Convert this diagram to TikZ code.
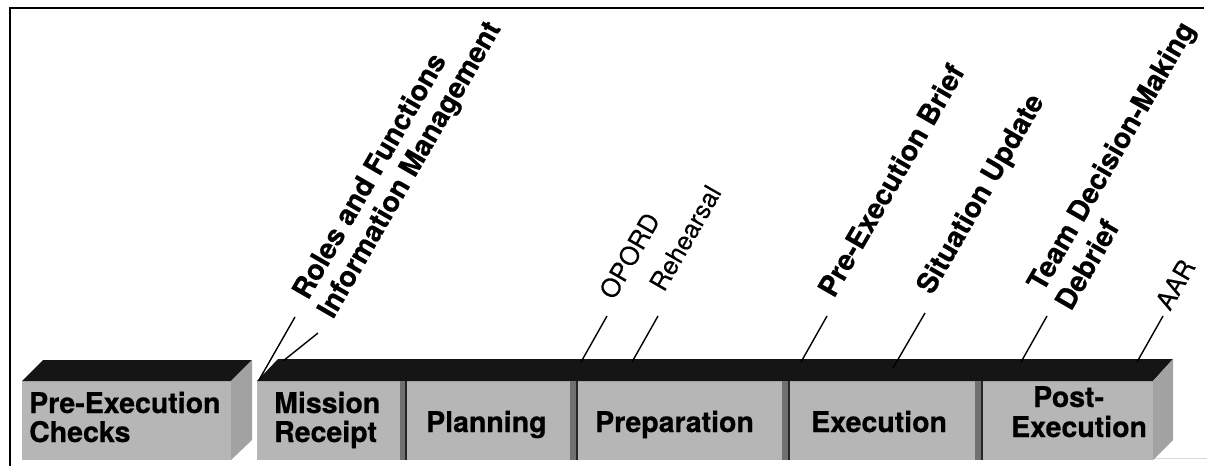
\documentclass[tikz,border=0pt]{standalone}
\usepackage{fontspec}
\newfontfamily\hv[BoldFeatures={FakeBold=0.5}]{TeX Gyre Heros}
\newfontfamily\hvr[FakeBold=0.2]{TeX Gyre Heros}
\definecolor{facegray}{HTML}{B6B6B6}
\definecolor{topblack}{HTML}{151515}
\definecolor{sidegray}{HTML}{A2A2A2}
\definecolor{divgray}{HTML}{707070}
\definecolor{faintgray}{HTML}{D8D8D8}
\tikzset{
  blocktxt/.style={font=\hv\bfseries\fontsize{28.5}{30}\selectfont, inner sep=0pt, anchor=base west},
  boldlbl/.style={font=\hv\bfseries\fontsize{28.3}{32}\selectfont, inner sep=0pt, anchor=base west, rotate=60},
  reglbl/.style={font=\hvr\fontsize{25.5}{30}\selectfont, inner sep=0pt, anchor=base west, rotate=60},
  leader/.style={line width=1.4pt, draw=black},
  frontface/.style={fill=facegray},
  topface/.style={fill=topblack},
  sideface/.style={fill=sidegray},
  divstrip/.style={fill=divgray},
  divedge/.style={line width=2pt, draw=black!85},
  framel/.style={line width=2pt, draw=black}
}
\begin{document}
\begin{tikzpicture}[x=1pt,y=-1pt]
\useasboundingbox (0,0) rectangle (1207,466);
% frame
\draw[framel] (10,466) -- (10,8) -- (1204,8);
\draw[faintgray, line width=1pt] (1073,458) -- (1207,458);

% Pre-Execution Checks block
\fill[frontface] (22,381) rectangle (231,460);
\fill[topface] (22,381) -- (43,360) -- (252,360) -- (231,381) -- cycle;
\fill[sideface] (231,381) -- (252,360) -- (252,440) -- (231,460) -- cycle;

% main block
\fill[frontface] (257,381) rectangle (1153,460);
\fill[topface] (257,381) -- (278,359) -- (1173,359) -- (1153,381) -- cycle;
\fill[sideface] (1153,381) -- (1173,359) -- (1173,440) -- (1153,460) -- cycle;

% dividers
\foreach \a/\b in {400/407, 570/578, 782/790, 975/983}{
  \fill[divstrip] (\a,381) rectangle (\b,460);
  \draw[divedge] (\b-1,381) -- (\b-1,460);
}

% block texts
\node[blocktxt] (pe1) at (29,413) {Pre-Execution};
\node[blocktxt] (pe2) at (29,442) {Checks};
\node[blocktxt] (mr1) at (274,413) {Mission};
\node[blocktxt] (mr2) at (274,442) {Receipt};
\node[blocktxt] (pl) at (426,432) {Planning};
\node[blocktxt] (pr) at (595,432) {Preparation};
\node[blocktxt] (ex) at (811,432) {Execution};
\node[blocktxt] (po1) at (1033,407) {Post-};
\node[blocktxt] (po2) at (1011,437) {Execution};

% leader line end points
\coordinate (rfA) at (259,380);  \coordinate (rfB) at (295,317);
\coordinate (imA) at (283,361);  \coordinate (imB) at (318,333);
\coordinate (opA) at (581,362);  \coordinate (opB) at (607,316);
\coordinate (reA) at (632,362);  \coordinate (reB) at (658,316);
\coordinate (pbA) at (801,362);  \coordinate (pbB) at (827,316);
\coordinate (suA) at (893,368);  \coordinate (suB) at (925,313);
\coordinate (tdA) at (1021,362); \coordinate (tdB) at (1047,316);
\coordinate (aaA) at (1137,362); \coordinate (aaB) at (1163,316);

\draw[leader] (rfA) -- (rfB);
\draw[leader] (imA) -- (imB);
\draw[leader] (opA) -- (opB);
\draw[leader] (reA) -- (reB);
\draw[leader] (pbA) -- (pbB);
\draw[leader] (suA) -- (suB);
\draw[leader] (tdA) -- (tdB);
\draw[leader] (aaA) -- (aaB);

% labels
\node[boldlbl] (rf) at (308,301) {Roles and Functions};
\node[boldlbl] (im) at (333,320) {Information Management};
\node[reglbl]  (op) at (614,301) {OPORD};
\node[reglbl]  (re) at (664,293) {Rehearsal};
\node[boldlbl] (pb) at (834,299) {Pre-Execution Brief};
\node[boldlbl] (su) at (932,296) {Situation Update};
\node[boldlbl] (td) at (1043,293) {Team Decision-Making};
\node[boldlbl] (db) at (1071,312) {Debrief};
\node[reglbl]  (aa) at (1170,312) {AAR};
\end{tikzpicture}
\end{document}
